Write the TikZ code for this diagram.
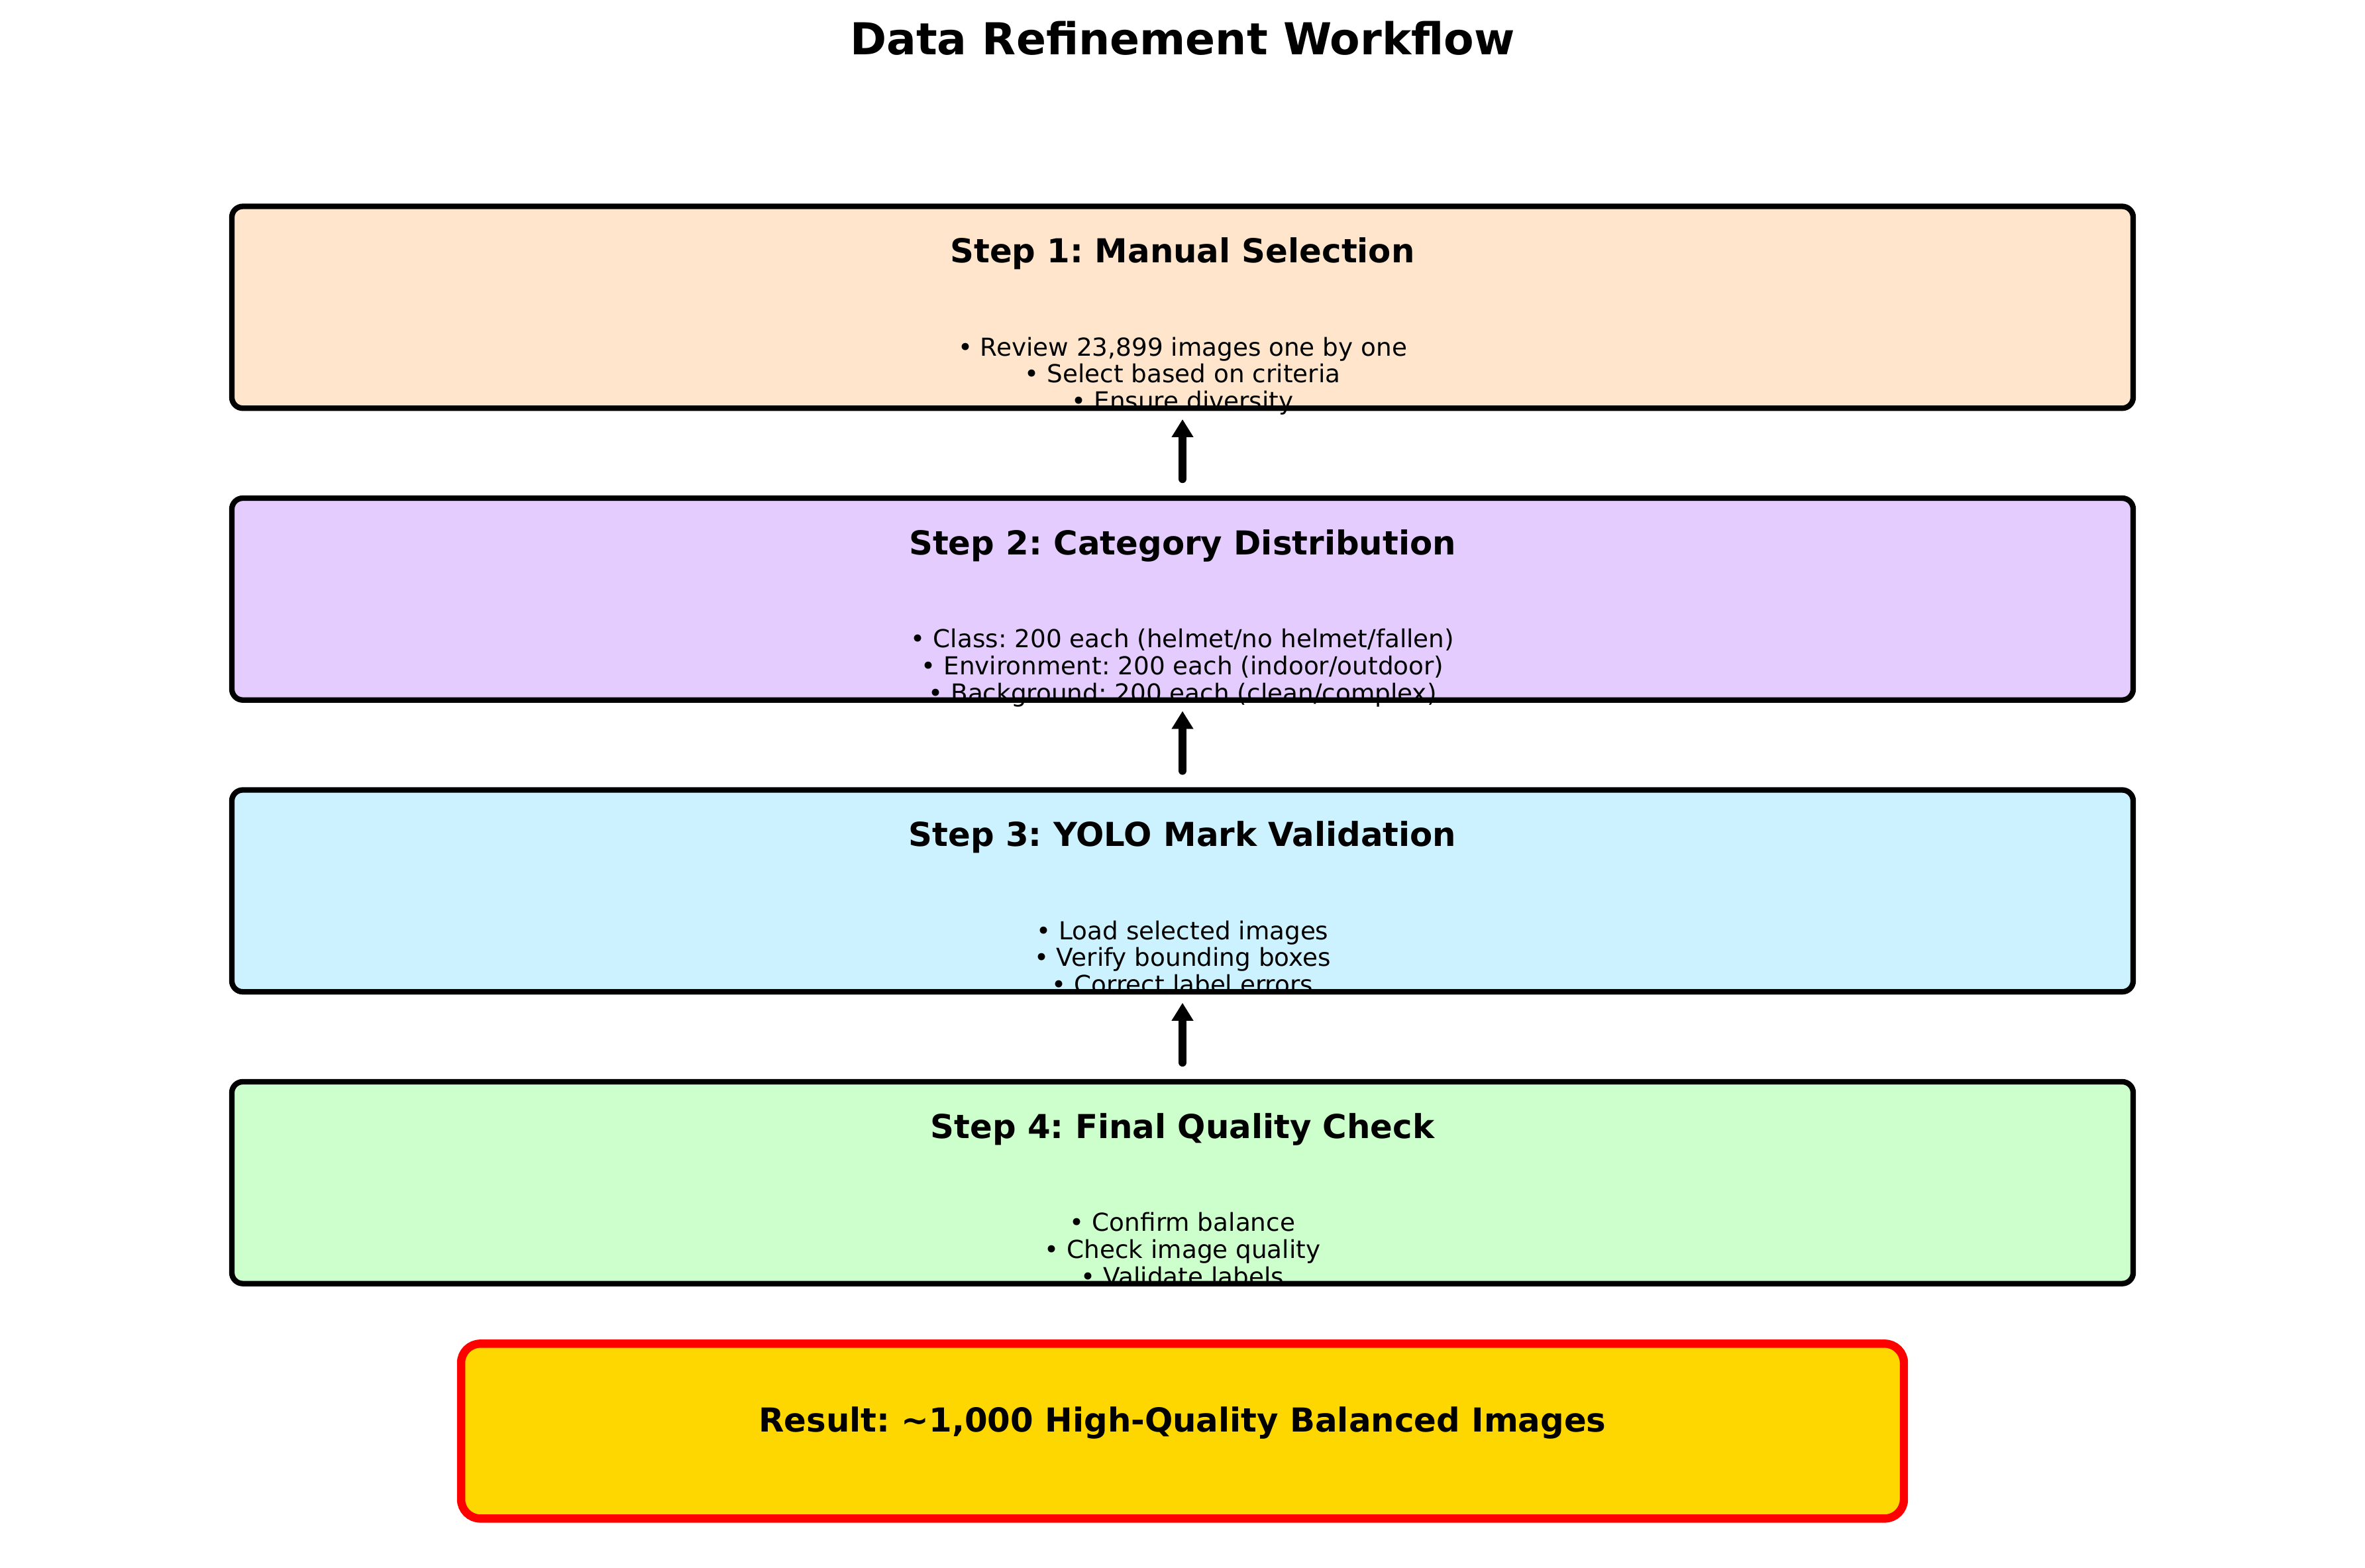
\documentclass[tikz,border=0pt]{standalone}
\usepackage{fontspec}
\setmainfont{DejaVu Sans}
\frenchspacing
\usetikzlibrary{arrows.meta,positioning}

\definecolor{stepone}{HTML}{FFE5CC}
\definecolor{steptwo}{HTML}{E5CCFF}
\definecolor{stepthree}{HTML}{CCF2FF}
\definecolor{stepfour}{HTML}{CCFFCC}
\definecolor{resultfill}{HTML}{FFD700}

\begin{document}
\begin{tikzpicture}[
    stepbox/.style={draw, line width=2pt, rounded corners=4pt, minimum width=24.30cm,
                    minimum height=2.58cm, inner sep=0pt},
    steptitle/.style={anchor=base, font=\fontsize{12}{14}\selectfont\bfseries},
    stepitems/.style={anchor=base, align=center, font=\fontsize{9}{9.8}\selectfont},
    resultbox/.style={draw=red, fill=resultfill, line width=3pt, rounded corners=7pt,
                      minimum width=18.44cm, minimum height=2.235cm, text depth=8.6pt,
                      font=\fontsize{12}{14}\selectfont\bfseries},
    flowarrow/.style={-{Triangle[length=6.5pt,width=7.5pt]}, line width=3pt, line cap=round,
                      shorten <=6pt, shorten >=3pt},
]
\useasboundingbox (0,0) rectangle (30.226,20.04);

\node[font=\fontsize{16}{19}\selectfont\bfseries] (title) at (15.113,19.55) {Data Refinement Workflow};

% the four steps
\node[stepbox, fill=stepone] (s1) at (15.113,16.112) {};
\node[stepbox, fill=steptwo, below=1.079cm of s1] (s2) {};
\node[stepbox, fill=stepthree, below=1.079cm of s2] (s3) {};
\node[stepbox, fill=stepfour, below=1.079cm of s3] (s4) {};

\node[steptitle] (t1) at ([yshift=0.567cm]s1.center) {Step 1: Manual Selection};
\node[stepitems] (b1) at ([yshift=-1.31cm]s1.center)
    {• Review 23,899 images one by one\\• Select based on criteria\\• Ensure diversity};

\node[steptitle] (t2) at ([yshift=0.567cm]s2.center) {Step 2: Category Distribution};
\node[stepitems] (b2) at ([yshift=-1.31cm]s2.center)
    {• Class: 200 each (helmet/no helmet/fallen)\\• Environment: 200 each (indoor/outdoor)\\• Background: 200 each (clean/complex)};

\node[steptitle] (t3) at ([yshift=0.567cm]s3.center) {Step 3: YOLO Mark Validation};
\node[stepitems] (b3) at ([yshift=-1.31cm]s3.center)
    {• Load selected images\\• Verify bounding boxes\\• Correct label errors};

\node[steptitle] (t4) at ([yshift=0.567cm]s4.center) {Step 4: Final Quality Check};
\node[stepitems] (b4) at ([yshift=-1.31cm]s4.center)
    {• Confirm balance\\• Check image quality\\• Validate labels};

% outcome
\node[resultbox, below=0.68cm of s4] (res) {Result: \textasciitilde1,000 High-Quality Balanced Images};

\draw[flowarrow] (s2.north) -- (s1.south);
\draw[flowarrow] (s3.north) -- (s2.south);
\draw[flowarrow] (s4.north) -- (s3.south);
\end{tikzpicture}
\end{document}
